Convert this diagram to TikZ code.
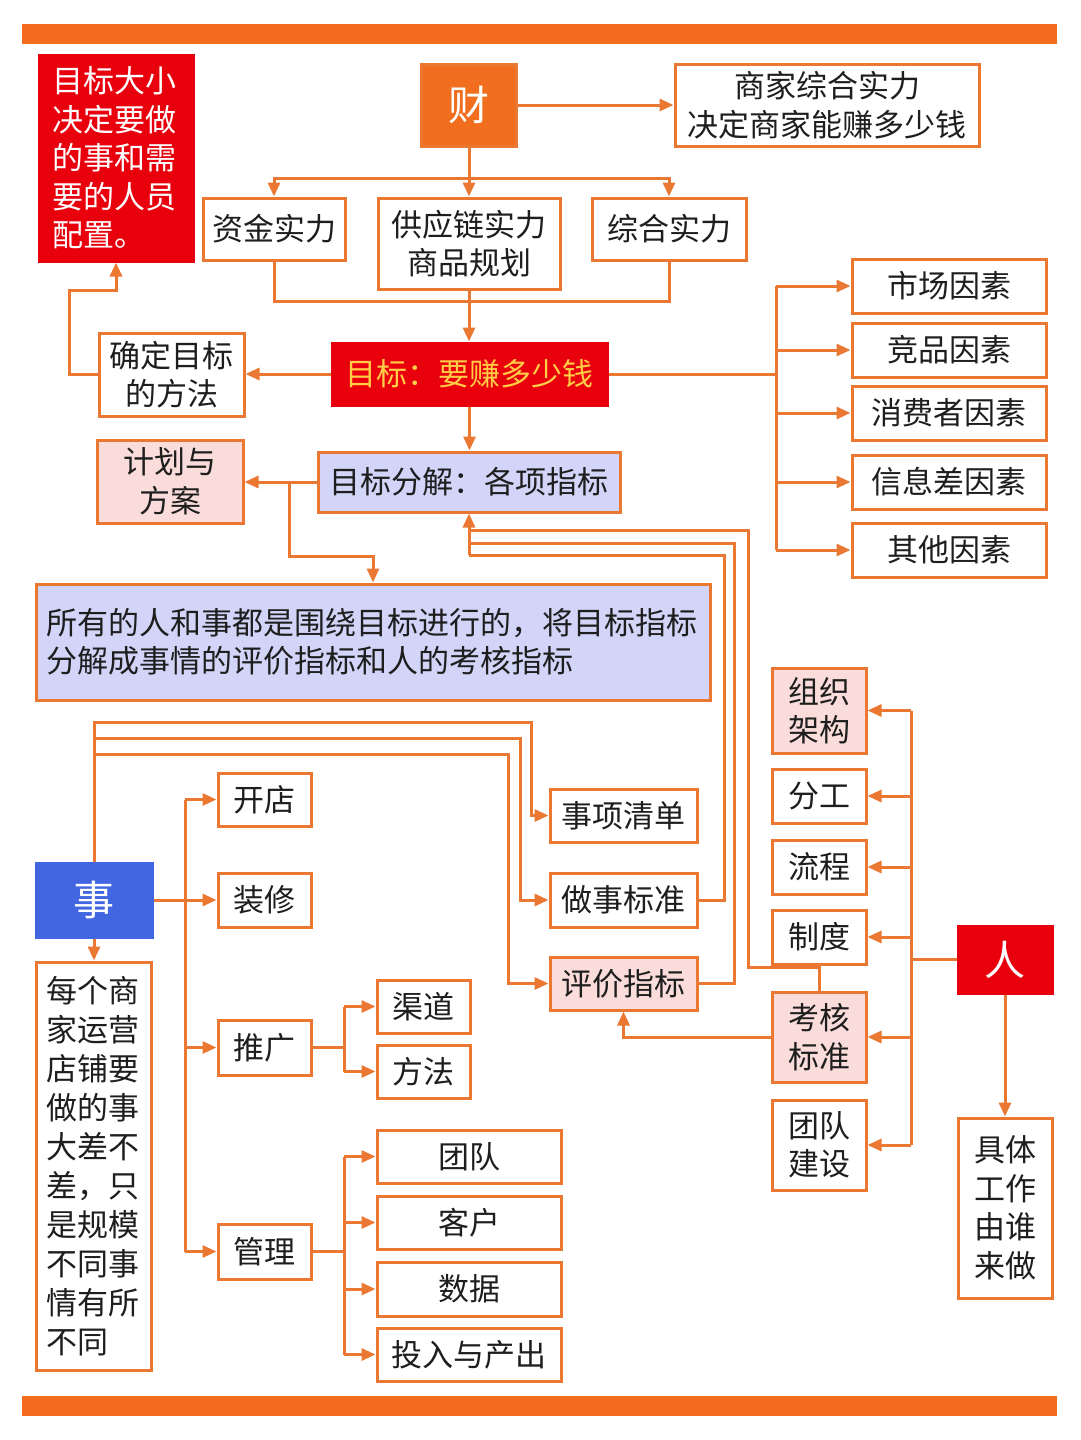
\documentclass[tikz,border=0pt]{standalone}
\usepackage{fontspec}
\setmainfont{Noto Sans CJK SC}
\usetikzlibrary{arrows.meta}
\definecolor{lc}{RGB}{235,120,50}
\definecolor{barc}{RGB}{245,108,30}
\definecolor{caic}{RGB}{240,110,30}
\definecolor{redc}{RGB}{232,0,12}
\definecolor{ytext}{RGB}{255,205,70}
\definecolor{pinkc}{RGB}{250,221,219}
\definecolor{lavc}{RGB}{210,213,248}
\definecolor{bluec}{RGB}{66,102,226}
\definecolor{textc}{RGB}{30,30,30}
\newcommand\txtA{\fontsize{31}{38.5}\selectfont}
\newcommand\txtM{\fontsize{31}{39}\selectfont}
\newcommand\txtB{\fontsize{41}{48}\selectfont}
\begin{document}
\begin{tikzpicture}[x=1pt,y=-1pt,
 box/.style={draw=lc,line width=3pt,fill=white,inner sep=0pt,align=center,text=textc,font=\txtA},
 sz/.style 2 args={minimum width=#1pt,minimum height=#2pt},
 con/.style={draw=lc,line width=3pt},
 arr/.style={con,-{Triangle[length=14pt,width=12pt]}}]
\useasboundingbox[fill=white] (0,0) rectangle (1080,1440);
\fill[barc] (22,24) rectangle (1057,44);
\fill[barc] (22,1396) rectangle (1057,1416);

% top area
\node[box,fill=redc,draw=redc,text=white,sz={154}{206},align=left,text width=128pt] (note) at (116,158) {目标大小\\决定要做\\的事和需\\要的人员\\配置。};
\node[box,fill=caic,text=white,font=\txtB,sz={95}{82}] (cai) at (469,105) {财};
\node[box,sz={304}{82}] (shangjia) at (827,105) {商家综合实力\\决定商家能赚多少钱};
\node[box,sz={142}{62}] (zijin) at (274,229) {资金实力};
\node[box,sz={182}{91}] (gongying) at (469,243.5) {供应链实力\\商品规划};
\node[box,sz={154}{62}] (zonghe) at (669,229) {综合实力};
\node[box,fill=redc,draw=redc,text=ytext,sz={275}{62}] (mubiao) at (469.5,374) {目标：要赚多少钱};
\node[box,sz={145}{83}] (queding) at (171.5,374.5) {确定目标\\的方法};
\node[box,sz={194}{54}] (f1) at (949,286) {市场因素};
\node[box,sz={194}{54}] (f2) at (949,350) {竞品因素};
\node[box,sz={194}{54}] (f3) at (949,413) {消费者因素};
\node[box,sz={194}{54}] (f4) at (949,482) {信息差因素};
\node[box,sz={194}{54}] (f5) at (949,550) {其他因素};
\node[box,fill=pinkc,sz={146}{83}] (jihua) at (170,481.5) {计划与\\方案};
\node[box,fill=lavc,sz={302}{60}] (fenjie) at (469,482) {目标分解：各项指标};
\node[box,fill=lavc,sz={674}{116},align=left,text width=654pt] (big) at (373,642) {所有的人和事都是围绕目标进行的，将目标指标\\分解成事情的评价指标和人的考核指标};

% 事 area
\node[box,fill=bluec,draw=bluec,text=white,font=\txtB,sz={116}{74}] (shi) at (94,900) {事};
\node[box,font=\txtM,sz={115}{408},align=left,text width=95pt] (meige) at (93.5,1166) {每个商\\家运营\\店铺要\\做的事\\大差不\\差，只\\是规模\\不同事\\情有所\\不同};
\node[box,sz={93}{53}] (kaidian) at (264.5,799.5) {开店};
\node[box,sz={93}{54}] (zhuangxiu) at (264.5,900) {装修};
\node[box,sz={93}{55}] (tuiguang) at (264.5,1047.5) {推广};
\node[box,sz={93}{55}] (guanli) at (264.5,1251.5) {管理};
\node[box,sz={93}{53}] (qudao) at (423.5,1006.5) {渠道};
\node[box,sz={93}{53}] (fangfa) at (423.5,1071.5) {方法};
\node[box,sz={184}{53}] (tuandui) at (469,1156.5) {团队};
\node[box,sz={184}{53}] (kehu) at (469,1222.5) {客户};
\node[box,sz={184}{54}] (shuju) at (469,1289) {数据};
\node[box,sz={184}{53}] (touru) at (469,1354.5) {投入与产出};
\node[box,sz={147}{53}] (shixiang) at (623.5,815.5) {事项清单};
\node[box,sz={147}{54}] (zuoshi) at (623.5,900) {做事标准};
\node[box,fill=pinkc,sz={147}{53}] (pingjia) at (623.5,983.5) {评价指标};

% 人 area
\node[box,fill=pinkc,sz={94}{85}] (zuzhi) at (819,710.5) {组织\\架构};
\node[box,sz={94}{54}] (fengong) at (819,796) {分工};
\node[box,sz={94}{54}] (liucheng) at (819,867) {流程};
\node[box,sz={94}{54}] (zhidu) at (819,937) {制度};
\node[box,fill=pinkc,sz={94}{90}] (kaohe) at (819,1037) {考核\\标准};
\node[box,sz={94}{90}] (tuanduijs) at (819,1145) {团队\\建设};
\node[box,fill=redc,draw=redc,text=white,font=\txtB,sz={94}{67}] (ren) at (1005,959.5) {人};
\node[box,sz={94}{180}] (juti) at (1005,1208) {具体\\工作\\由谁\\来做};

% connectors: top
\draw[arr] (cai.east) -- (shangjia.west);
\coordinate (t1) at (469,178);
\draw[arr] (cai.south) -- (cai.south |- gongying.north);
\draw[arr] (t1) -| (zijin.north);
\draw[arr] (t1) -| (zonghe.north);
\coordinate (b1) at (469,301);
\draw[con] (zijin.south) |- (b1) -| (zonghe.south);
\draw[arr] (gongying.south) -- (gongying.south |- mubiao.north);
\draw[arr] (mubiao.west) -- (mubiao.west -| queding.east);
\coordinate (q1) at (69,290);
\draw[arr] (queding.west) -| (q1) -| (note.south);
\coordinate (fb) at (776,374);
\draw[con] (mubiao.east) -- (fb);
\draw[con] (fb |- f1.west) -- (fb |- f5.west);
\foreach \n in {f1,f2,f3,f4,f5} \draw[arr] (fb |- \n.west) -- (\n.west);
\draw[arr] (mubiao.south) -- (mubiao.south |- fenjie.north);
\draw[arr] (fenjie.west) -- (fenjie.west -| jihua.east);
\coordinate (jb) at (289,482);
\coordinate (jc) at (289,556);
\draw[arr] (jb) -- (jc) -| (big.north);

% return lines to 目标分解
\coordinate (r1) at (748,967);
\coordinate (m1) at (469,530);
\coordinate (r2) at (734,543);
\coordinate (m2) at (469,543);
\coordinate (r3) at (724,555);
\coordinate (m3) at (469,555);
\draw[con] (kaohe.north) |- (r1) |- (m1);
\draw[con] (pingjia.east) -| (r2) -- (m2);
\draw[con] (zuoshi.east) -| (r3) -- (m3);
\draw[arr] (m3) -- (fenjie.south);

% 事 lines
\coordinate (s1) at (531,722);
\coordinate (s2) at (520,738);
\coordinate (s3) at (508,754);
\draw[arr] (shi.north) |- (s1) |- (shixiang.west);
\draw[arr] (shi.north) |- (s2) |- (zuoshi.west);
\draw[arr] (shi.north) |- (s3) |- (pingjia.west);
\coordinate (sb) at (185,900);
\draw[con] (shi.east) -- (sb);
\draw[con] (sb |- kaidian.west) -- (sb |- guanli.west);
\foreach \n in {kaidian,zhuangxiu,tuiguang,guanli} \draw[arr] (sb |- \n.west) -- (\n.west);
\draw[arr] (shi.south) -- (shi.south |- meige.north);
\coordinate (tb) at (344,1047.5);
\draw[con] (tuiguang.east) -- (tb);
\draw[con] (tb |- qudao.west) -- (tb |- fangfa.west);
\foreach \n in {qudao,fangfa} \draw[arr] (tb |- \n.west) -- (\n.west);
\coordinate (gb) at (344,1251.5);
\draw[con] (guanli.east) -- (gb);
\draw[con] (gb |- tuandui.west) -- (gb |- touru.west);
\foreach \n in {tuandui,kehu,shuju,touru} \draw[arr] (gb |- \n.west) -- (\n.west);

% 人 lines
\coordinate (rb) at (911,959.5);
\draw[con] (ren.west) -- (rb);
\draw[con] (rb |- zuzhi.east) -- (rb |- tuanduijs.east);
\foreach \n in {zuzhi,fengong,liucheng,zhidu,kaohe,tuanduijs} \draw[arr] (rb |- \n.east) -- (\n.east);
\draw[arr] (ren.south) -- (ren.south |- juti.north);
\draw[arr] (kaohe.west) -| (pingjia.south);
\end{tikzpicture}
\end{document}
